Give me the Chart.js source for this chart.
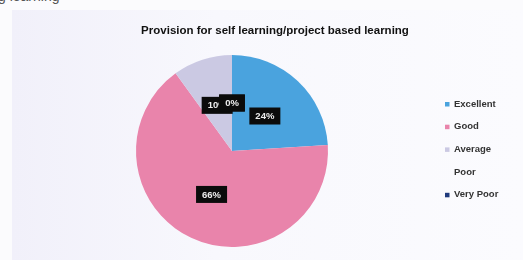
<!DOCTYPE html>
<html>
<head>
<meta charset="utf-8">
<script src="https://cdn.jsdelivr.net/npm/chart.js@4"></script>
<style>
  html, body { margin: 0; padding: 0; background: #fbfbfd; overflow: hidden; }
  #wrap { position: relative; width: 523px; height: 260px; }
  #top { position: absolute; left: -2px; top: -12px; font: 14px "Liberation Sans", Arial, sans-serif; color: #555; }
  #box { position: absolute; left: 12px; top: 10px; width: 511px; height: 250px;
         background: linear-gradient(90deg, #f1f0fa 0%, #f8f8fd 40%, #fbfbfe 100%); }
  canvas { position: absolute; left: 0; top: 0; }
</style>
</head>
<body>
<div id="wrap">
  <div id="top">g learning</div>
  <div id="box"></div>
  <canvas id="pie" width="523" height="260"></canvas>
</div>
<script>
// setup
var chartTitle = 'Provision for self learning/project based learning';
var categories = ['Excellent', 'Good', 'Average', 'Poor', 'Very Poor'];
var percents = [24, 66, 10, 0, 0];
var sliceColors = ['#4aa3de', '#e984ab', '#cbc9e3', '#ffffff', '#1f3a7c'];

var data = {
    labels: categories,
    datasets: [{
        data: percents,
        backgroundColor: sliceColors,
        borderWidth: 0,
    }]
};

// black boxes with the percent, half way out in each slice
var sliceLabels = {
    id: 'sliceLabels',
    afterDatasetsDraw(chart) {
        const ctx = chart.ctx;
        const arcs = chart.getDatasetMeta(0).data;
        ctx.save();
        ctx.font = 'bold 9.5px "Liberation Sans", Arial, sans-serif';
        ctx.textAlign = 'center';
        ctx.textBaseline = 'middle';
        arcs.forEach(function (arc, i) {
            const p = arc.getProps(['x', 'y', 'startAngle', 'endAngle', 'outerRadius'], true);
            const mid = (p.startAngle + p.endAngle) / 2;
            const r = p.outerRadius * 0.5;
            const x = p.x + Math.cos(mid) * r;
            const y = p.y + Math.sin(mid) * r;
            const txt = percents[i] + '%';
            const w = ctx.measureText(txt).width + 12;
            const h = 17;
            ctx.fillStyle = '#0b0b0b';
            ctx.fillRect(x - w / 2, y - h / 2, w, h);
            ctx.fillStyle = '#eeeeee';
            ctx.fillText(txt, x, y + 0.5);
        });
        ctx.restore();
    }
};

// title and legend at fixed spots like the slide
var sideText = {
    id: 'sideText',
    afterDraw(chart) {
        const ctx = chart.ctx;
        const area = chart.chartArea;
        ctx.save();
        ctx.font = 'bold 11.5px "Liberation Sans", Arial, sans-serif';
        ctx.fillStyle = '#111';
        ctx.textAlign = 'center';
        ctx.textBaseline = 'middle';
        ctx.fillText(chartTitle, 275, 31);

        ctx.font = 'bold 9.5px "Liberation Sans", Arial, sans-serif';
        ctx.textAlign = 'left';
        const lx = area.right + 119;
        categories.forEach(function (name, i) {
            const y = 104 + i * 22.7;
            if (sliceColors[i] !== '#ffffff') {
                ctx.fillStyle = sliceColors[i];
                ctx.fillRect(lx - 2, y - 2, 4.5, 4.5);
            }
            ctx.fillStyle = '#333';
            ctx.fillText(name, lx + 7, y);
        });
        ctx.restore();
    }
};

// config
var pieConfig = {
    type: 'pie',
    data,
    options: {
        responsive: false,
        animation: false,
        layout: { padding: { left: 136, right: 195, top: 55, bottom: 13 } },
        plugins: {
            legend: { display: false },
            tooltip: { enabled: false },
            title: { display: false }
        }
    },
    plugins: [sliceLabels, sideText]
};

// render init block
const pieChart = new Chart(document.getElementById('pie'), pieConfig);
</script>
</body>
</html>
